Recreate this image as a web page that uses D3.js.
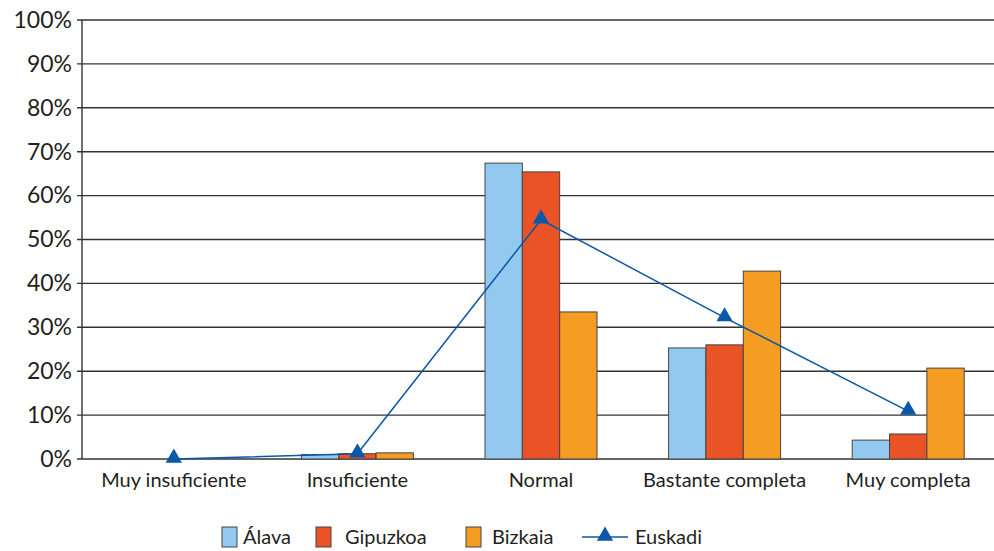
<!DOCTYPE html>
<html>
<head>
<meta charset="utf-8">
<script src="https://cdn.jsdelivr.net/npm/d3@7"></script>
<style>
  body { margin: 0; background: #fff; }
  svg text { font-family: Lato, "Open Sans", sans-serif; fill: #231f20; }
</style>
</head>
<body>
<svg></svg>
<script>
var categories = ["Muy insuficiente", "Insuficiente", "Normal", "Bastante completa", "Muy completa"];
var alava    = [0, 1.0, 67.4, 25.3, 4.3];
var gipuzkoa = [0, 1.2, 65.4, 26.0, 5.7];
var bizkaia  = [0, 1.4, 33.5, 42.8, 20.7];
var euskadi  = [0, 1.2, 54.5, 32.2, 10.9];
var yTicks = [0, 10, 20, 30, 40, 50, 60, 70, 80, 90, 100];

var seriesNames = ["Álava", "Gipuzkoa", "Bizkaia"];
var seriesColors = ["#93c9ee", "#ea5325", "#f59c22"];
var lineColor = "#0a58a8";

var W = 994, H = 551;
var margin = { top: 20, right: 0, bottom: 92, left: 82 },
    w = W - margin.left - margin.right,
    h = H - margin.top - margin.bottom;

var svg = d3.select("svg")
    .attr("width", W)
    .attr("height", H)
    .append("g")
    .attr("transform", "translate(" + margin.left + "," + margin.top + ")");

// category bands run slightly past the right edge, as in the original
var xScale = d3.scaleBand()
    .domain(categories)
    .range([0, w + 6])
    .paddingInner(0.39)
    .paddingOuter(0.195);

var xInner = d3.scaleBand()
    .domain(seriesNames)
    .range([0, xScale.bandwidth()]);

var yScale = d3.scaleLinear()
    .domain([0, 100])
    .range([h, 0]);

// gridlines
svg.selectAll("line.grid")
    .data(yTicks)
    .enter().append("line")
    .attr("class", "grid")
    .attr("x1", -5)
    .attr("x2", w)
    .attr("y1", function(d) { return yScale(d); })
    .attr("y2", function(d) { return yScale(d); })
    .attr("stroke", "#333")
    .attr("stroke-width", 1.4);

// y axis
var yAxis = d3.axisLeft(yScale)
    .tickValues(yTicks)
    .tickSize(0)
    .tickPadding(10)
    .tickFormat(function(d) { return d + "%"; });

var yg = svg.append("g").call(yAxis);
yg.select(".domain").remove();
yg.selectAll("text")
    .style("font-size", "23px")
    .attr("fill", "#231f20");

svg.append("line")
    .attr("x1", 0).attr("x2", 0)
    .attr("y1", 0).attr("y2", h)
    .attr("stroke", "#333")
    .attr("stroke-width", 1.4);

// bars
var seriesData = [alava, gipuzkoa, bizkaia];
var groups = svg.selectAll("g.series")
    .data(seriesData)
    .enter().append("g")
    .attr("class", "series")
    .attr("fill", function(d, i) { return seriesColors[i]; });

groups.each(function(vals, si) {
    d3.select(this).selectAll("rect")
        .data(vals.map(function(v, ci) { return { v: v, c: categories[ci] }; }).filter(function(d) { return d.v > 0; }))
        .enter().append("rect")
        .attr("x", function(d) { return xScale(d.c) + xInner(seriesNames[si]); })
        .attr("y", function(d) { return yScale(d.v); })
        .attr("width", xInner.bandwidth())
        .attr("height", function(d) { return yScale(0) - yScale(d.v); })
        .attr("stroke", "#444")
        .attr("stroke-width", 1);
});

// x labels
svg.selectAll("text.xlab")
    .data(categories)
    .enter().append("text")
    .attr("class", "xlab")
    .attr("x", function(d) { return xScale(d) + xScale.bandwidth() / 2; })
    .attr("y", h + 28)
    .attr("text-anchor", "middle")
    .style("font-size", "20px")
    .text(function(d) { return d; });

// Euskadi line
var cx = function(d, i) { return xScale(categories[i]) + xScale.bandwidth() / 2; };
var line = d3.line()
    .x(function(d, i) { return cx(d, i); })
    .y(function(d) { return yScale(d); });

svg.append("path")
    .datum(euskadi)
    .attr("d", line)
    .attr("fill", "none")
    .attr("stroke", lineColor)
    .attr("stroke-width", 1.5);

var tri = d3.symbol().type(d3.symbolTriangle).size(115);
svg.selectAll("path.marker")
    .data(euskadi)
    .enter().append("path")
    .attr("class", "marker")
    .attr("d", tri)
    .attr("transform", function(d, i) { return "translate(" + cx(d, i) + "," + (yScale(d) - 1) + ")"; })
    .attr("fill", lineColor);

// legend
var legend = d3.select("svg").append("g");
var legendX = [222, 316, 466];
var legendTX = [243, 345, 492];
seriesNames.forEach(function(name, i) {
    legend.append("rect")
        .attr("x", legendX[i])
        .attr("y", 527)
        .attr("width", 15)
        .attr("height", 20)
        .attr("fill", seriesColors[i])
        .attr("stroke", "#444")
        .attr("stroke-width", 1);
    legend.append("text")
        .attr("x", legendTX[i])
        .attr("y", 544)
        .style("font-size", "20px")
        .text(name);
});
legend.append("line")
    .attr("x1", 582).attr("x2", 628)
    .attr("y1", 537).attr("y2", 537)
    .attr("stroke", lineColor)
    .attr("stroke-width", 1.5);
legend.append("path")
    .attr("d", tri)
    .attr("transform", "translate(605,536)")
    .attr("fill", lineColor);
legend.append("text")
    .attr("x", 635)
    .attr("y", 544)
    .style("font-size", "20px")
    .text("Euskadi");
</script>
</body>
</html>
